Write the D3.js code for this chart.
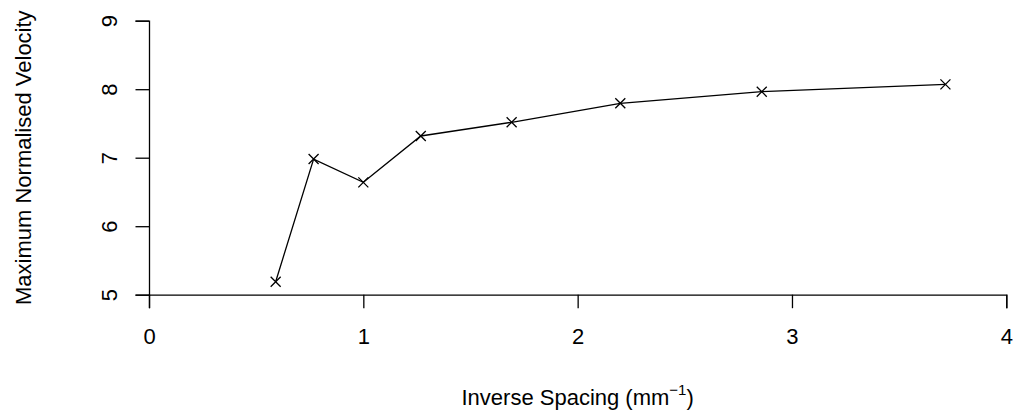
<!DOCTYPE html>
<html><head><meta charset="utf-8">
<script src="https://cdn.jsdelivr.net/npm/d3@7"></script>
<style>body{margin:0;background:#fff}svg{display:block}text{font-family:"Liberation Sans",Arial,sans-serif;fill:#000}</style>
</head><body>
<svg id="c" width="1016" height="414"></svg>
<script>
const inverseSpacing = [0.591, 0.768, 1.0, 1.268, 1.692, 2.199, 2.859, 3.716];
const maxVelocity = [5.19, 6.98, 6.64, 7.317, 7.517, 7.794, 7.964, 8.07];
const xTicks = [0, 1, 2, 3, 4];
const yTicks = [5, 6, 7, 8, 9];

const svg = d3.select("#c");
const x = d3.scaleLinear().domain([0, 4]).range([149, 1006.3]);
const y = d3.scaleLinear().domain([5, 9]).range([294.7, 20.7]);
const fs = 22;
const font = '"Liberation Sans",Arial,sans-serif';

const xAxis = svg.append("g").attr("transform", `translate(0,${y(5)})`)
  .call(d3.axisBottom(x).tickValues(xTicks).tickFormat(d3.format("d")).tickSize(13.5).tickPadding(16));
const yAxis = svg.append("g").attr("transform", `translate(${x(0)},0)`)
  .call(d3.axisLeft(y).tickValues(yTicks).tickFormat(d3.format("d")).tickSize(13.5).tickPadding(16));
[xAxis, yAxis].forEach(g => {
  g.attr("font-size", fs).attr("font-family", font);
  g.select(".domain").attr("stroke", "#000").attr("stroke-width", 1.3);
  g.selectAll(".tick line").attr("stroke", "#000").attr("stroke-width", 1.3);
  g.selectAll("text").attr("font-size", fs).attr("fill", "#000");
});
xAxis.selectAll(".tick text").attr("y", 49.6).attr("dy", 0);
// R style: y tick labels rotated
yAxis.selectAll(".tick text").attr("text-anchor", "middle").attr("x", 0).attr("dy", 0)
  .attr("transform", "translate(-32,0) rotate(-90)");

const line = d3.line().x((d, i) => x(inverseSpacing[i])).y(d => y(d));
svg.append("path").datum(maxVelocity).attr("d", line).attr("fill", "none").attr("stroke", "#000").attr("stroke-width", 1.3);

const s = 5;
svg.append("g").selectAll("path.pt").data(maxVelocity).join("path")
  .attr("d", (d, i) => { const cx = x(inverseSpacing[i]), cy = y(d);
    return `M${cx-s},${cy-s}L${cx+s},${cy+s}M${cx-s},${cy+s}L${cx+s},${cy-s}`; })
  .attr("stroke", "#000").attr("stroke-width", 1.3).attr("fill", "none");

const xt = svg.append("text").attr("x", (x(0)+x(4))/2).attr("y", 405).attr("text-anchor", "middle").attr("font-size", fs);
xt.append("tspan").text("Inverse Spacing (mm");
xt.append("tspan").text("\u22121").attr("font-size", 15).attr("dy", -10);
xt.append("tspan").text(")").attr("dy", 10);

svg.append("text").attr("transform", `translate(31,${(y(5)+y(9))/2}) rotate(-90)`)
  .attr("text-anchor", "middle").attr("font-size", fs).text("Maximum Normalised Velocity");
</script>
</body></html>
